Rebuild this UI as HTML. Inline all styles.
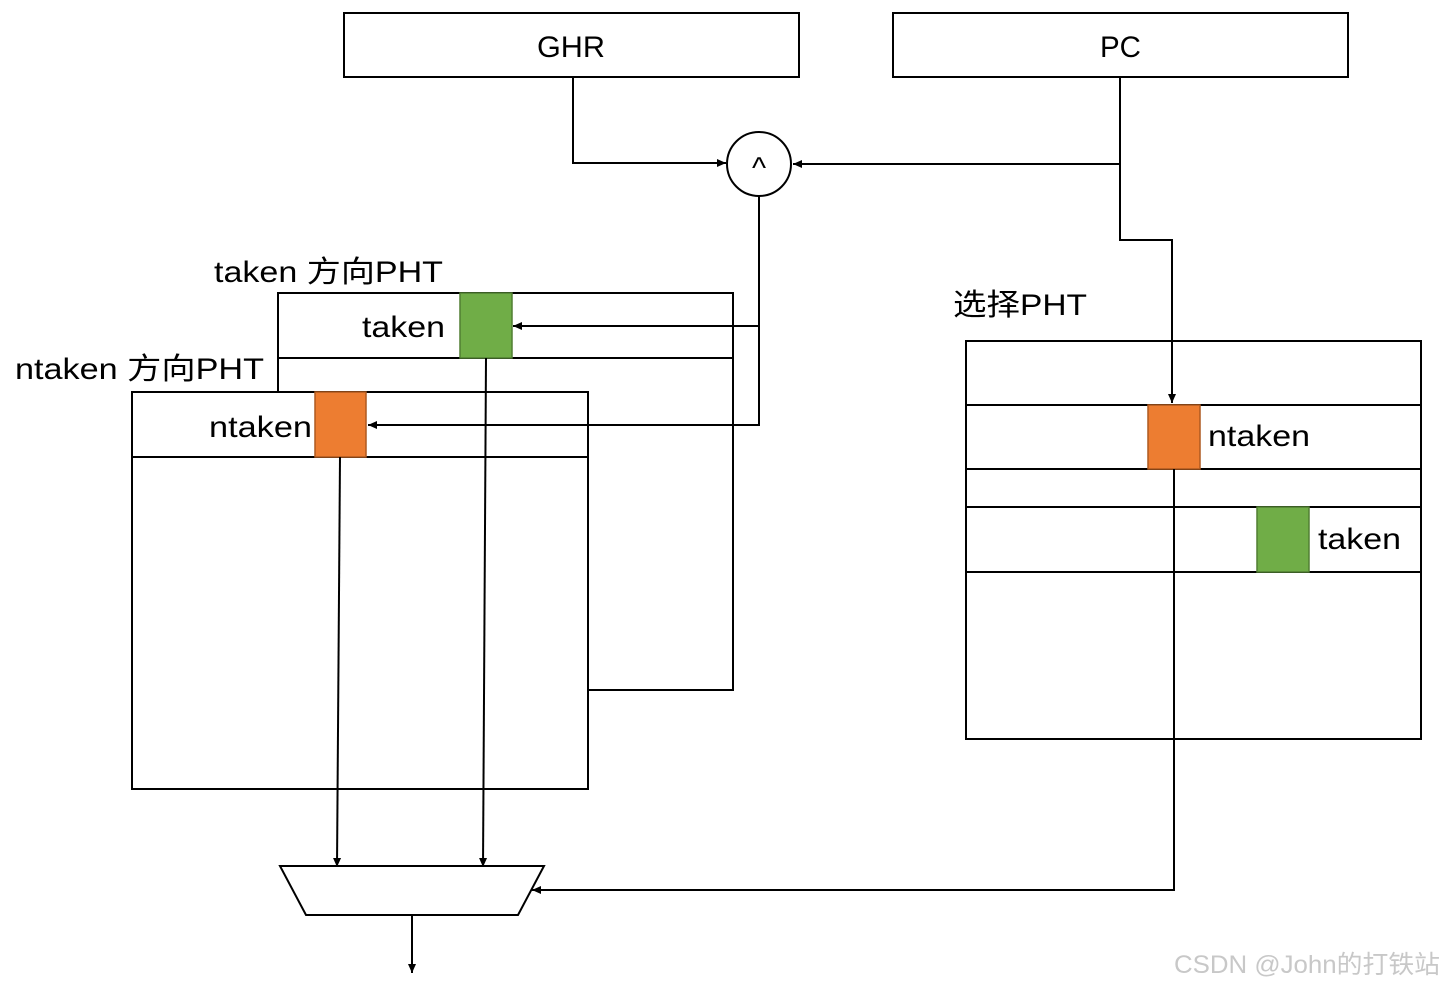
<!DOCTYPE html>
<html><head><meta charset="utf-8"><style>
html,body{margin:0;padding:0;background:#fff;}
svg{display:block;}
text{font-family:"Liberation Sans","Noto Sans CJK SC",sans-serif;}
</style></head><body>
<svg width="1445" height="989" viewBox="0 0 1445 989" xmlns="http://www.w3.org/2000/svg">
<defs>
<marker id="a" markerWidth="10" markerHeight="10" refX="9" refY="5" orient="auto" markerUnits="userSpaceOnUse">
<path d="M0,1 L9,5 L0,9 z" fill="#000"/>
</marker>
</defs>
<g fill="#fff" stroke="#000" stroke-width="2">
<rect x="344" y="13" width="455" height="64"/>
<rect x="893" y="13" width="455" height="64"/>
</g>
<text x="537" y="57" font-size="30" textLength="68" lengthAdjust="spacingAndGlyphs">GHR</text>
<text x="1100" y="57" font-size="30" textLength="41" lengthAdjust="spacingAndGlyphs">PC</text>
<circle cx="759" cy="164" r="32" fill="#fff" stroke="#000" stroke-width="2"/>
<text x="759" y="178" font-size="30" text-anchor="middle">^</text>
<g fill="none" stroke="#000" stroke-width="2">
<path d="M573,77 V163 H726" marker-end="url(#a)"/>
<path d="M1120,77 V164 H793" marker-end="url(#a)"/>
</g>
<!-- back taken PHT -->
<rect x="278" y="293" width="455" height="397" fill="#fff" stroke="#000" stroke-width="2"/>
<line x1="278" y1="358" x2="733" y2="358" stroke="#000" stroke-width="2"/>
<rect x="460" y="293" width="52" height="65" fill="#70ad47" stroke="#507e32" stroke-width="1.5"/>
<text x="362" y="337" font-size="30" textLength="83" lengthAdjust="spacingAndGlyphs">taken</text>
<text x="214" y="282" font-size="30" textLength="229" lengthAdjust="spacingAndGlyphs">taken 方向PHT</text>
<!-- front ntaken PHT -->
<rect x="132" y="392" width="456" height="397" fill="#fff" stroke="#000" stroke-width="2"/>
<line x1="132" y1="457" x2="588" y2="457" stroke="#000" stroke-width="2"/>
<rect x="315" y="392" width="51" height="65" fill="#ed7d31" stroke="#ae5a21" stroke-width="1.5"/>
<text x="209" y="437" font-size="30" textLength="103" lengthAdjust="spacingAndGlyphs">ntaken</text>
<text x="15" y="379" font-size="30" textLength="249" lengthAdjust="spacingAndGlyphs">ntaken 方向PHT</text>
<g fill="none" stroke="#000" stroke-width="2">
<path d="M759,196 V425 H368" marker-end="url(#a)"/>
<path d="M759,326 H513" marker-end="url(#a)"/>
<path d="M486,358 L483,867" marker-end="url(#a)"/>
<path d="M340,457 L337,867" marker-end="url(#a)"/>
</g>
<!-- selection PHT -->
<rect x="966" y="341" width="455" height="398" fill="#fff" stroke="#000" stroke-width="2"/>
<g stroke="#000" stroke-width="2">
<line x1="966" y1="405" x2="1421" y2="405"/>
<line x1="966" y1="469" x2="1421" y2="469"/>
<line x1="966" y1="507" x2="1421" y2="507"/>
<line x1="966" y1="572" x2="1421" y2="572"/>
</g>
<path d="M1120,164 V240 H1172 V403" fill="none" stroke="#000" stroke-width="2" marker-end="url(#a)"/>
<rect x="1148" y="405" width="52" height="64" fill="#ed7d31" stroke="#ae5a21" stroke-width="1.5"/>
<rect x="1257" y="507" width="52" height="65" fill="#70ad47" stroke="#507e32" stroke-width="1.5"/>
<text x="1208" y="446" font-size="30" textLength="102" lengthAdjust="spacingAndGlyphs">ntaken</text>
<text x="1318" y="549" font-size="30" textLength="83" lengthAdjust="spacingAndGlyphs">taken</text>
<text x="953" y="315" font-size="30" textLength="134" lengthAdjust="spacingAndGlyphs">选择PHT</text>
<!-- mux -->
<path d="M280,866 H544 L518,915 H306 Z" fill="#fff" stroke="#000" stroke-width="2"/>
<g fill="none" stroke="#000" stroke-width="2">
<path d="M1174,469 V890 H532" marker-end="url(#a)"/>
<path d="M412,915 V973" marker-end="url(#a)"/>
</g>
<text x="1174" y="973" font-size="25" fill="#c8c8c8" textLength="266" lengthAdjust="spacingAndGlyphs">CSDN @John的打铁站</text>
</svg>
</body></html>
